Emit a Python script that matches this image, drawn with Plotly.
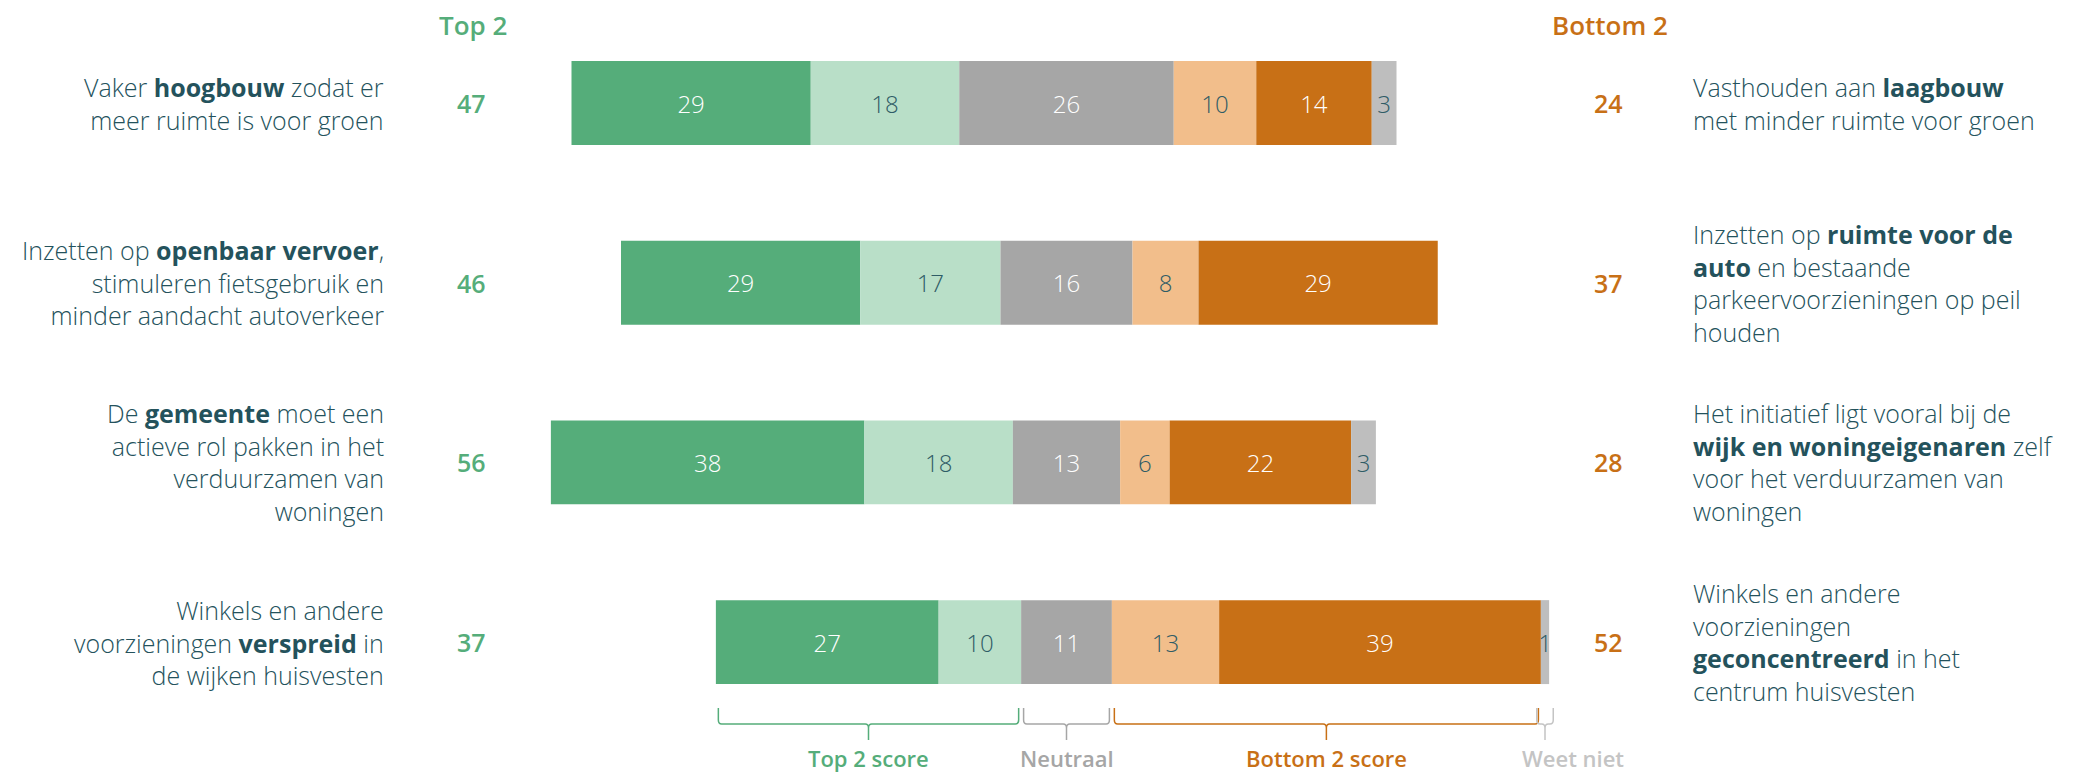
import plotly.graph_objects as go

# ---------------- data ----------------
statements_left = [
    ["Vaker <b>hoogbouw</b> zodat er", "meer ruimte is voor groen"],
    ["Inzetten op <b>openbaar vervoer</b>,", "stimuleren fietsgebruik en", "minder aandacht autoverkeer"],
    ["De <b>gemeente</b> moet een", "actieve rol pakken in het", "verduurzamen van", "woningen"],
    ["Winkels en andere", "voorzieningen <b>verspreid</b> in", "de wijken huisvesten"],
]
statements_right = [
    ["Vasthouden aan <b>laagbouw</b>", "met minder ruimte voor groen"],
    ["Inzetten op <b>ruimte voor de</b>", "<b>auto</b> en bestaande", "parkeervoorzieningen op peil", "houden"],
    ["Het initiatief ligt vooral bij de", "<b>wijk en woningeigenaren</b> zelf", "voor het verduurzamen van", "woningen"],
    ["Winkels en andere", "voorzieningen", "<b>geconcentreerd</b> in het", "centrum huisvesten"],
]
top2_dark = [29, 29, 38, 27]
top2_light = [18, 17, 18, 10]
neutral = [26, 16, 13, 11]
bottom2_light = [10, 8, 6, 13]
bottom2_dark = [14, 29, 22, 39]
dont_know = [3, 0, 3, 1]
top2_score = [47, 46, 56, 37]
bottom2_score = [24, 37, 28, 52]
header_top = "Top 2"
header_bottom = "Bottom 2"
bracket_labels = ["Top 2 score", "Neutraal", "Bottom 2 score", "Weet niet"]

# ---------------- style ----------------
W, H = 2077, 773
FONT = "Open Sans"
C_DG = "#55AD7A"
C_LG = "#B9DFC8"
C_NE = "#A6A6A6"
C_LO = "#F2BE8B"
C_DO = "#C87016"
C_WN = "#BEBEBE"
C_TXT = "#24525C"
C_DARKTXT = "#2F5C66"
C_WNLBL = "#C4C4C4"

CENTER_PX = 1066.5
PX_PER = 8.25
ROW0_PX = 103
ROW_STEP = 179.7

def px_x(px):
    return px / W

def px_y(py):
    return 1 - py / H

rows = list(range(len(top2_dark)))

# bases for diverging stacked bars (centred on the middle of neutral)
b_ne = [-n / 2 for n in neutral]
b_lg = [-n / 2 - l for n, l in zip(neutral, top2_light)]
b_dg = [-n / 2 - l - d for n, l, d in zip(neutral, top2_light, top2_dark)]
b_lo = [n / 2 for n in neutral]
b_do = [n / 2 + lo for n, lo in zip(neutral, bottom2_light)]
b_wn = [n / 2 + lo + do for n, lo, do in zip(neutral, bottom2_light, bottom2_dark)]

fig = go.Figure()
segs = [
    (top2_dark, b_dg, C_DG, "white"),
    (top2_light, b_lg, C_LG, C_DARKTXT),
    (neutral, b_ne, C_NE, "white"),
    (bottom2_light, b_lo, C_LO, C_DARKTXT),
    (bottom2_dark, b_do, C_DO, "white"),
    (dont_know, b_wn, C_WN, C_DARKTXT),
]
for vals, bases, col, tcol in segs:
    fig.add_trace(go.Bar(
        orientation="h", y=rows, x=vals, base=bases,
        marker=dict(color=col, line=dict(width=0)),
        width=0.467,
        text=[str(v) if v else "" for v in vals],
        textposition="inside", insidetextanchor="middle",
        constraintext="none", cliponaxis=False,
        textfont=dict(family=FONT, size=24, color=tcol, weight=300),
        hoverinfo="skip",
    ))

x_left = (0 - CENTER_PX) / PX_PER
x_right = (W - CENTER_PX) / PX_PER
y_top = (0 - ROW0_PX) / ROW_STEP
y_bot = (H - ROW0_PX) / ROW_STEP

annotations = []
# headers
annotations.append(dict(x=px_x(473), y=px_y(25), xref="paper", yref="paper", text=header_top,
                        showarrow=False, xanchor="center", yanchor="middle",
                        font=dict(family=FONT, size=26, color=C_DG, weight=600)))
annotations.append(dict(x=px_x(1610), y=px_y(25), xref="paper", yref="paper", text=header_bottom,
                        showarrow=False, xanchor="center", yanchor="middle",
                        font=dict(family=FONT, size=26, color=C_DO, weight=600)))

for i in rows:
    cy = ROW0_PX + i * ROW_STEP
    annotations.append(dict(x=px_x(471), y=px_y(cy), xref="paper", yref="paper", text=str(top2_score[i]),
                            showarrow=False, xanchor="center", yanchor="middle",
                            font=dict(family=FONT, size=25, color=C_DG, weight=600)))
    annotations.append(dict(x=px_x(1608), y=px_y(cy), xref="paper", yref="paper", text=str(bottom2_score[i]),
                            showarrow=False, xanchor="center", yanchor="middle",
                            font=dict(family=FONT, size=25, color=C_DO, weight=600)))
    for lines, xpx, anchor in ((statements_left[i], 386, "right"), (statements_right[i], 1691, "left")):
        annotations.append(dict(x=px_x(xpx), y=px_y(cy), xref="paper", yref="paper",
                                text="<br>".join(lines), align=anchor,
                                showarrow=False, xanchor=anchor, yanchor="middle",
                                font=dict(family=FONT, size=25, color=C_TXT, weight=300)))

# brackets under the last row
last = rows[-1]
segments_last = [
    (b_dg[last], -neutral[last] / 2, C_DG, 0.3),
    (-neutral[last] / 2, neutral[last] / 2, C_NE, 0.3),
    (neutral[last] / 2, b_wn[last], C_DO, 0.3),
    (b_wn[last], b_wn[last] + dont_know[last], C_WNLBL, -0.5),
]
Y_TOP, Y_LINE, Y_TICK = px_y(708), px_y(724), px_y(740)
r = 0.4
dy = 4 / H
shapes = []
label_cols = [C_DG, C_NE, C_DO, C_WNLBL]
for (xa, xb, col, inset), lab, lcol in zip(segments_last, bracket_labels, label_cols):
    xa += inset
    xb -= inset
    xc = (xa + xb) / 2
    path = (f"M {xa},{Y_TOP} L {xa},{Y_LINE + dy} Q {xa},{Y_LINE} {xa + r},{Y_LINE} "
            f"L {xc - r},{Y_LINE} Q {xc},{Y_LINE} {xc},{Y_LINE - dy} L {xc},{Y_TICK} "
            f"M {xc},{Y_LINE - dy} Q {xc},{Y_LINE} {xc + r},{Y_LINE} "
            f"L {xb - r},{Y_LINE} Q {xb},{Y_LINE} {xb},{Y_LINE + dy} L {xb},{Y_TOP}")
    shapes.append(dict(type="path", path=path, xref="x", yref="paper",
                       line=dict(color=col, width=1.5)))
    if lab == "Weet niet":
        annotations.append(dict(x=xa - 2.0, y=px_y(758), xref="x", yref="paper", text=lab,
                                showarrow=False, xanchor="left", yanchor="middle",
                                font=dict(family=FONT, size=22, color=lcol, weight=600)))
    else:
        annotations.append(dict(x=xc, y=px_y(758), xref="x", yref="paper", text=lab,
                                showarrow=False, xanchor="center", yanchor="middle",
                                font=dict(family=FONT, size=22, color=lcol, weight=600)))

fig.update_layout(
    width=W, height=H,
    margin=dict(l=0, r=0, t=0, b=0),
    paper_bgcolor="white", plot_bgcolor="white",
    barmode="overlay", showlegend=False,
    xaxis=dict(range=[x_left, x_right], visible=False, fixedrange=True),
    yaxis=dict(range=[y_bot, y_top], visible=False, fixedrange=True),
    annotations=annotations, shapes=shapes,
)

fig.write_html("out.html", config={"displayModeBar": False},
               post_script="document.body.style.margin='0';document.body.style.overflow='hidden';")
